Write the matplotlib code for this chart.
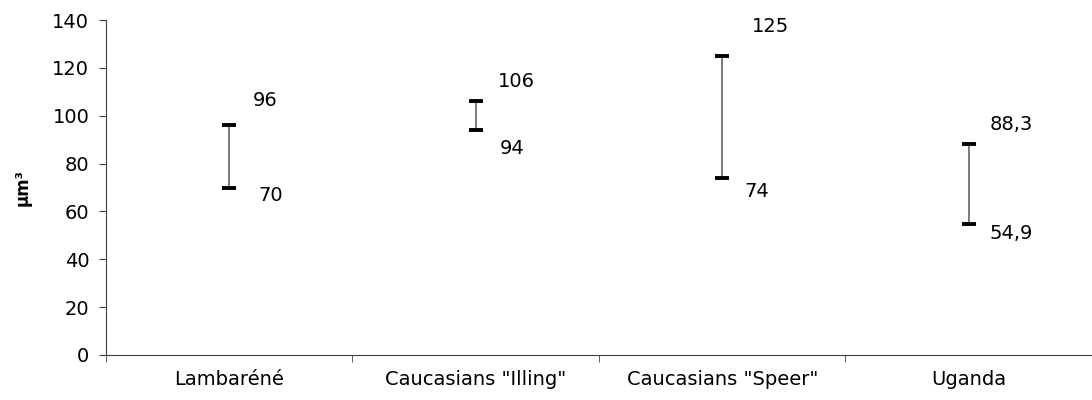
import numpy as np
import matplotlib.pyplot as plt

plt.rcParams['font.family'] = ['DejaVu Sans']

groups = ['Lambaréné', 'Caucasians "Illing"', 'Caucasians "Speer"', 'Uganda']
low = [70, 94, 74, 54.9]
high = [96, 106, 125, 88.3]
low_txt = ['70', '94', '74', '54,9']
high_txt = ['96', '106', '125', '88,3']

# label offsets in points (Excel labels were placed by hand)
high_off = [(17, 18), (16, 14), (21, 21), (15, 14)]
low_off = [(21, -6), (17, -13), (16, -10), (15, -7)]

fig = plt.figure(figsize=(10.92, 4), dpi=100)
ax = fig.add_axes([0.097, 0.1125, 0.903, 0.8375])

x = np.arange(len(groups))
ax.vlines(x, low, high, color='#6f6f6f', lw=1.3, zorder=2)
ax.plot(x, high, ls='none', marker='_', ms=9.5, mew=2.8, color='black', zorder=3)
ax.plot(x, low, ls='none', marker='_', ms=9.5, mew=2.8, color='black', zorder=3)

for i in range(len(groups)):
    ax.annotate(high_txt[i], (x[i], high[i]), xytext=high_off[i],
                textcoords='offset points', ha='left', va='center', fontsize=14)
    ax.annotate(low_txt[i], (x[i], low[i]), xytext=low_off[i],
                textcoords='offset points', ha='left', va='center', fontsize=14)

ax.set_xlim(-0.5, 3.5)
ax.set_ylim(0, 140)
ax.set_yticks(range(0, 141, 20))
ax.set_xticks(x)
ax.set_xticklabels(groups, fontsize=14)
ax.set_xticks(np.arange(-0.5, 3.6, 1), minor=True)
ax.tick_params(axis='x', which='major', length=0, pad=11)
ax.tick_params(axis='x', which='minor', length=5, color='#404040')
ax.tick_params(axis='y', labelsize=14, length=5, color='#404040', pad=7)
ax.set_ylabel('µm³', fontsize=12, fontweight='bold', labelpad=15)

for s in ['top', 'right']:
    ax.spines[s].set_visible(False)
for s in ['left', 'bottom']:
    ax.spines[s].set_color('#404040')

fig.savefig('out.png', dpi=100)
